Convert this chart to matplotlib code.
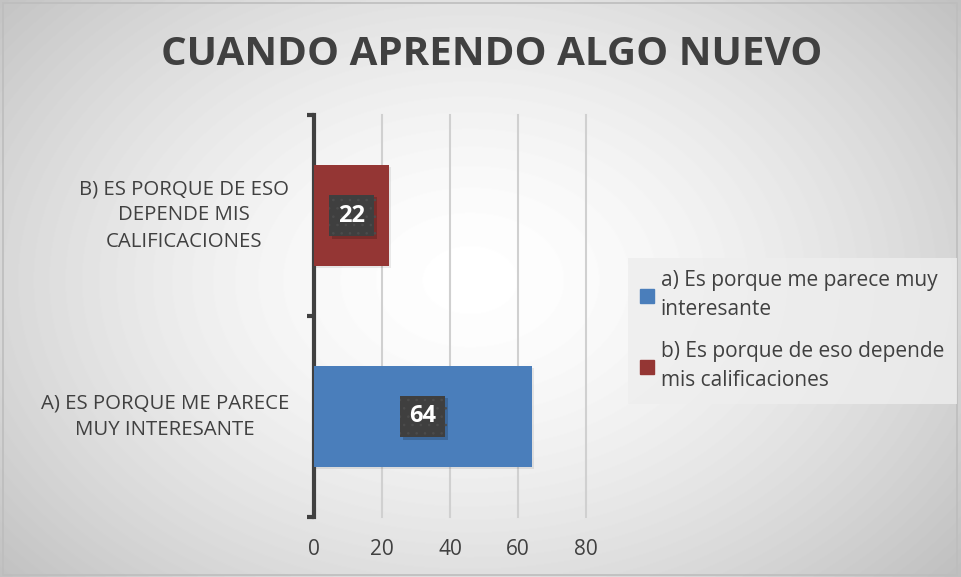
import numpy as np
import matplotlib.pyplot as plt
import matplotlib.patheffects as pe
from matplotlib.patches import Rectangle

plt.rcParams['font.family'] = ['Open Sans', 'DejaVu Sans']
plt.rcParams['hatch.linewidth'] = 0.6

title = 'CUANDO APRENDO ALGO NUEVO'
categories = ['A) ES PORQUE ME PARECE\nMUY INTERESANTE',
              'B) ES PORQUE DE ESO\nDEPENDE MIS\nCALIFICACIONES']
legend_labels = ['a) Es porque me parece muy\ninteresante',
                 'b) Es porque de eso depende\nmis calificaciones']
values = [64, 22]
colors = ['#4a7ebb', '#943634']
xticks = [0, 20, 40, 60, 80]

text_color = '#404040'

fig = plt.figure(figsize=(9.61, 5.77), dpi=100)

# radial gradient background
bg = fig.add_axes([0, 0, 1, 1], zorder=-10)
yy, xx = np.mgrid[0:577, 0:961]
r = np.sqrt(((xx - 470) / 560.0) ** 2 + ((yy - 280) / 400.0) ** 2)
shade = 255 - 52 * np.clip(r, 0, 1.2) ** 1.6
bg.imshow(shade, cmap='gray', vmin=0, vmax=255, aspect='auto')
bg.axis('off')
fig.patches.append(Rectangle((0.003, 0.004), 0.993, 0.991, transform=fig.transFigure,
                             fill=False, edgecolor='#bdbdbd', lw=1.2))

ax = fig.add_axes([314 / 961, 1 - 517 / 577, (586 - 314) / 961, (517 - 115) / 577])
ax.patch.set_alpha(0)

ypos = np.arange(len(values))
bars = ax.barh(ypos, values, height=0.5, color=colors, zorder=3)
for b in bars:
    b.set_path_effects([pe.SimplePatchShadow(offset=(1.5, -1.5), shadow_rgbFace='#000000', alpha=0.08),
                        pe.Normal()])

ax.set_xlim(0, 80)
ax.set_ylim(-0.5, 1.5)
ax.set_xticks(xticks)
ax.set_xticklabels([str(t) for t in xticks], fontsize=15, color=text_color)
ax.tick_params(axis='x', length=0, pad=16)
for t in xticks[1:]:
    ax.axvline(t, color='#d0d0d0', lw=1.5, zorder=1, clip_on=False)

for s in ['top', 'right', 'bottom']:
    ax.spines[s].set_visible(False)
ax.spines['left'].set_color(text_color)
ax.spines['left'].set_linewidth(3)
ax.set_yticks([-0.5, 0.5, 1.5])
ax.set_yticklabels([])
ax.tick_params(axis='y', direction='out', length=5, width=3, color=text_color)

for i, lab in enumerate(categories):
    ax.annotate(lab, xy=(0, ypos[i]), xycoords=('axes fraction', 'data'),
                xytext=(-18, 0), textcoords='offset points', ha='right', va='center',
                multialignment='center', fontsize=14.7, color=text_color, linespacing=1.42)

# data labels
for i, v in enumerate(values):
    t = ax.text(v / 2, ypos[i], str(v), ha='center', va='center', color='white',
                fontsize=17, fontweight='bold', zorder=5,
                bbox=dict(boxstyle='square,pad=0.38', facecolor='#3f3f3f', edgecolor='#4c4c4c',
                          linewidth=0, hatch='..'))
    t.get_bbox_patch().set_path_effects([
        pe.SimplePatchShadow(offset=(2, -2), shadow_rgbFace='#000000', alpha=0.18),
        pe.Normal()])

fig.text(0.512, 0.905, title, ha='center', va='center', fontsize=29,
         fontweight='bold', color=text_color)

handles = [Rectangle((0, 0), 1, 1, color=c) for c in colors]
leg = fig.legend(handles, legend_labels, loc='upper left', bbox_to_anchor=(0.653, 0.553),
                 fontsize=15, frameon=True, fancybox=False, handlelength=0.65,
                 handleheight=0.65, handletextpad=0.35, labelspacing=1.0,
                 borderpad=0.6, borderaxespad=0, labelcolor=text_color)
for txt in leg.get_texts():
    txt.set_linespacing(1.5)
leg.get_frame().set_facecolor('#eeeeee')
leg.get_frame().set_edgecolor('none')
leg.get_frame().set_alpha(0.8)

fig.savefig('out.png', dpi=100)
